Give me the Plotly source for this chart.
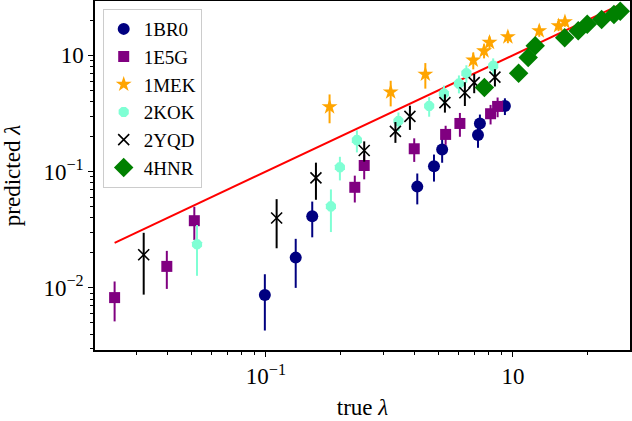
import plotly.graph_objects as go

# ---------------- data (true lambda, predicted lambda, error) ----------------
br0_x = [0.099, 0.132, 0.154, 0.410, 0.479, 0.517, 0.722, 0.735, 0.928]
br0_y = [0.0087, 0.0182, 0.0412, 0.0742, 0.111, 0.155, 0.206, 0.259, 0.366]
br0_e = [0.0044, 0.0082, 0.014, 0.022, 0.029, 0.036, 0.046, 0.05, 0.06]

e5g_x = [0.0244, 0.0397, 0.0513, 0.229, 0.250, 0.3985, 0.534, 0.610, 0.812, 0.867]
e5g_y = [0.00825, 0.0153, 0.0378, 0.0732, 0.1127, 0.157, 0.2085, 0.259, 0.314, 0.363]
e5g_e = [0.0031, 0.0055, 0.012, 0.019, 0.027, 0.036, 0.039, 0.06, 0.06, 0.07]

mek_x = [0.181, 0.320, 0.442, 0.691, 0.764, 0.804, 0.954, 1.278, 1.53, 1.624]
mek_y = [0.360, 0.483, 0.686, 0.906, 1.089, 1.287, 1.438, 1.62, 1.789, 1.936]
mek_e = [0.10, 0.12, 0.17, 0.15, 0.15, 0.16, 0.17, 0.18, 0.18, 0.18]

kok_x = [0.0526, 0.1833, 0.1993, 0.2335, 0.344, 0.458, 0.5256, 0.6044, 0.648, 0.832]
kok_y = [0.0237, 0.0502, 0.1089, 0.186, 0.272, 0.366, 0.468, 0.570, 0.700, 0.809]
kok_e = [0.011, 0.02, 0.025, 0.04, 0.05, 0.07, 0.08, 0.1, 0.12, 0.13]

yqd_x = [0.0320, 0.1105, 0.1594, 0.250, 0.3344, 0.3828, 0.5305, 0.639, 0.697, 0.8455]
yqd_y = [0.01925, 0.0399, 0.0882, 0.1517, 0.2214, 0.298, 0.391, 0.476, 0.5815, 0.6486]
yqd_e = [0.0105, 0.018, 0.031, 0.03, 0.045, 0.07, 0.07, 0.11, 0.11, 0.11]

hnr_x = [0.7664, 1.0546, 1.153, 1.231, 1.62, 1.838, 2.0, 2.286, 2.564, 2.72]
hnr_y = [0.5266, 0.6998, 0.955, 1.203, 1.41, 1.62, 1.85, 2.03, 2.234, 2.386]
hnr_e = [0.05, 0.06, 0.07, 0.08, 0.08, 0.09, 0.09, 0.1, 0.1, 0.1]

x_tickvals = [0.1, 1]
x_ticktext = ["10<sup>\u22121</sup>", "10"]
y_tickvals = [0.01, 0.1, 1]
y_ticktext = ["10<sup>\u22122</sup>", "10<sup>\u22121</sup>", "10"]

series = [
    ("1BR0", br0_x, br0_y, br0_e, "#000080", "circle", 12),
    ("1E5G", e5g_x, e5g_y, e5g_e, "#800080", "square", 11),
    ("1MEK", mek_x, mek_y, mek_e, "#FFA500", "star", 12),
    ("2KOK", kok_x, kok_y, kok_e, "#7FFFD4", "octagon", 11),
    ("2YQD", yqd_x, yqd_y, yqd_e, "#000000", "x-thin", 11),
    ("4HNR", hnr_x, hnr_y, hnr_e, "#008000", "diamond", 15),
]

FONT = "Liberation Serif"

fig = go.Figure()

all_x = br0_x + e5g_x + mek_x + kok_x + yqd_x + hnr_x
lo, hi = min(all_x), max(all_x)
fig.add_trace(go.Scatter(x=[lo, hi], y=[lo, hi], mode="lines",
                         line=dict(color="red", width=2), showlegend=False,
                         hoverinfo="skip"))

for name, xs, ys, es, col, sym, size in series:
    marker = dict(color=col, symbol=sym, size=size)
    if sym == "x-thin":
        marker["line"] = dict(color=col, width=1.6)
    else:
        marker["line"] = dict(width=0)
    fig.add_trace(go.Scatter(
        x=xs, y=ys, mode="markers", name=name, marker=marker,
        error_y=dict(type="data", array=es, color=col, thickness=2, width=0),
    ))

def minor_vals(e0, e1):
    return [k * 10.0 ** e for e in range(e0, e1) for k in range(2, 10)]

axis_common = dict(
    type="log", showgrid=False, zeroline=False, showline=True,
    linecolor="black", linewidth=1.5, mirror=True, automargin=False,
    ticks="outside", ticklen=5, tickwidth=1.2, tickcolor="black",
    tickfont=dict(family=FONT, size=23, color="black"),
)

fig.update_layout(
    width=632, height=421,
    margin=dict(l=95, r=2, t=1, b=71),
    paper_bgcolor="white", plot_bgcolor="white",
    font=dict(family=FONT, size=20, color="black"),
    xaxis=dict(axis_common, range=[-1.692, 0.474],
               tickmode="array", tickvals=x_tickvals, ticktext=x_ticktext,
               minor=dict(tickmode="array", tickvals=minor_vals(-2, 1),
                          ticks="outside", ticklen=3, tickcolor="black",
                          showgrid=False),
               title=dict(text="true <i>\u03bb</i>", font=dict(family=FONT, size=23),
                          standoff=11)),
    yaxis=dict(axis_common, range=[-2.534, 0.466],
               tickmode="array", tickvals=y_tickvals, ticktext=y_ticktext,
               minor=dict(tickmode="array", tickvals=minor_vals(-3, 1),
                          ticks="outside", ticklen=3, tickcolor="black",
                          showgrid=False),
               title=dict(text="predicted <i>\u03bb</i>", font=dict(family=FONT, size=23),
                          standoff=21)),
    legend=dict(x=0.0144, y=0.977, xanchor="left", yanchor="top",
                bgcolor="rgba(255,255,255,0.85)", bordercolor="#cccccc",
                borderwidth=1, font=dict(family=FONT, size=19)),
)

fig.write_html("out.html", config={"displayModeBar": False},
               post_script="document.body.style.margin='0';document.body.style.padding='0';")
